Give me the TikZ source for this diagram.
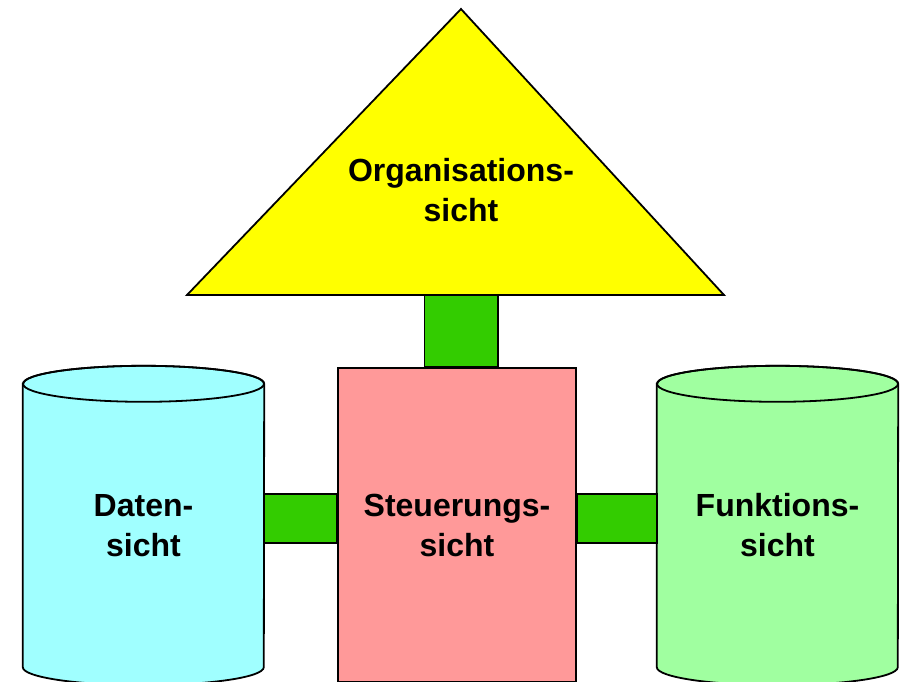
\documentclass[tikz,border=0pt]{standalone}
\usepackage{fontspec}
\setmainfont{Liberation Sans}
\usetikzlibrary{backgrounds}

\definecolor{datcyan}{RGB}{160,255,255}
\definecolor{funkgreen}{RGB}{160,255,160}
\definecolor{steupink}{RGB}{255,153,153}
\definecolor{orgyellow}{RGB}{255,255,0}
\definecolor{bargreen}{RGB}{51,204,0}

\begin{document}
\begin{tikzpicture}[x=1pt, y=-1pt,
        viewtext/.style={font=\bfseries\fontsize{32}{40}\selectfont, align=center},
        cylbody/.style={minimum width=241pt, minimum height=283pt, viewtext},
        outline/.style={draw, line width=1.8pt},
        bar/.style={outline, fill=bargreen}]
        \useasboundingbox (0,0) rectangle (905,681);

        % Nodes
        \draw[outline, fill=orgyellow, line join=miter] (187,295) -- (461,9) -- (724,295) -- cycle;
        \node[viewtext] (org) at (461,190) {Organisations-\\sicht};
        \coordinate (orgbase) at (461,295);
        \node[cylbody] (dat) at (143.5,525.5) {Daten-\\sicht};
        \node[cylbody] (funk) at (777.5,525.5) {Funktions-\\sicht};
        \node[outline, fill=steupink, minimum width=238pt, minimum height=314pt, viewtext] (steu) at (457,525) {Steuerungs-\\sicht};

        % Cylinders
        \begin{scope}[on background layer]
        \foreach \v/\c in {dat/datcyan, funk/funkgreen} {
            \draw[outline, fill=\c] (\v.north west) -- (\v.south west)
                arc[start angle=180, end angle=360, x radius=120.5pt, y radius=18pt]
                -- (\v.north east)
                arc[start angle=0, end angle=180, x radius=120.5pt, y radius=18pt] -- cycle;
            \draw[outline] (\v.north) ellipse[x radius=120.5pt, y radius=18pt];
        }
        \end{scope}

        % Bars
        \draw[bar] ([xshift=-36.5pt]orgbase) rectangle (steu.north -| 498,0);
        \draw[bar] (dat.east |- 0,494) rectangle (steu.west |- 0,543);
        \draw[bar] (steu.east |- 0,494) rectangle (funk.west |- 0,543);
    \end{tikzpicture}
\end{document}
